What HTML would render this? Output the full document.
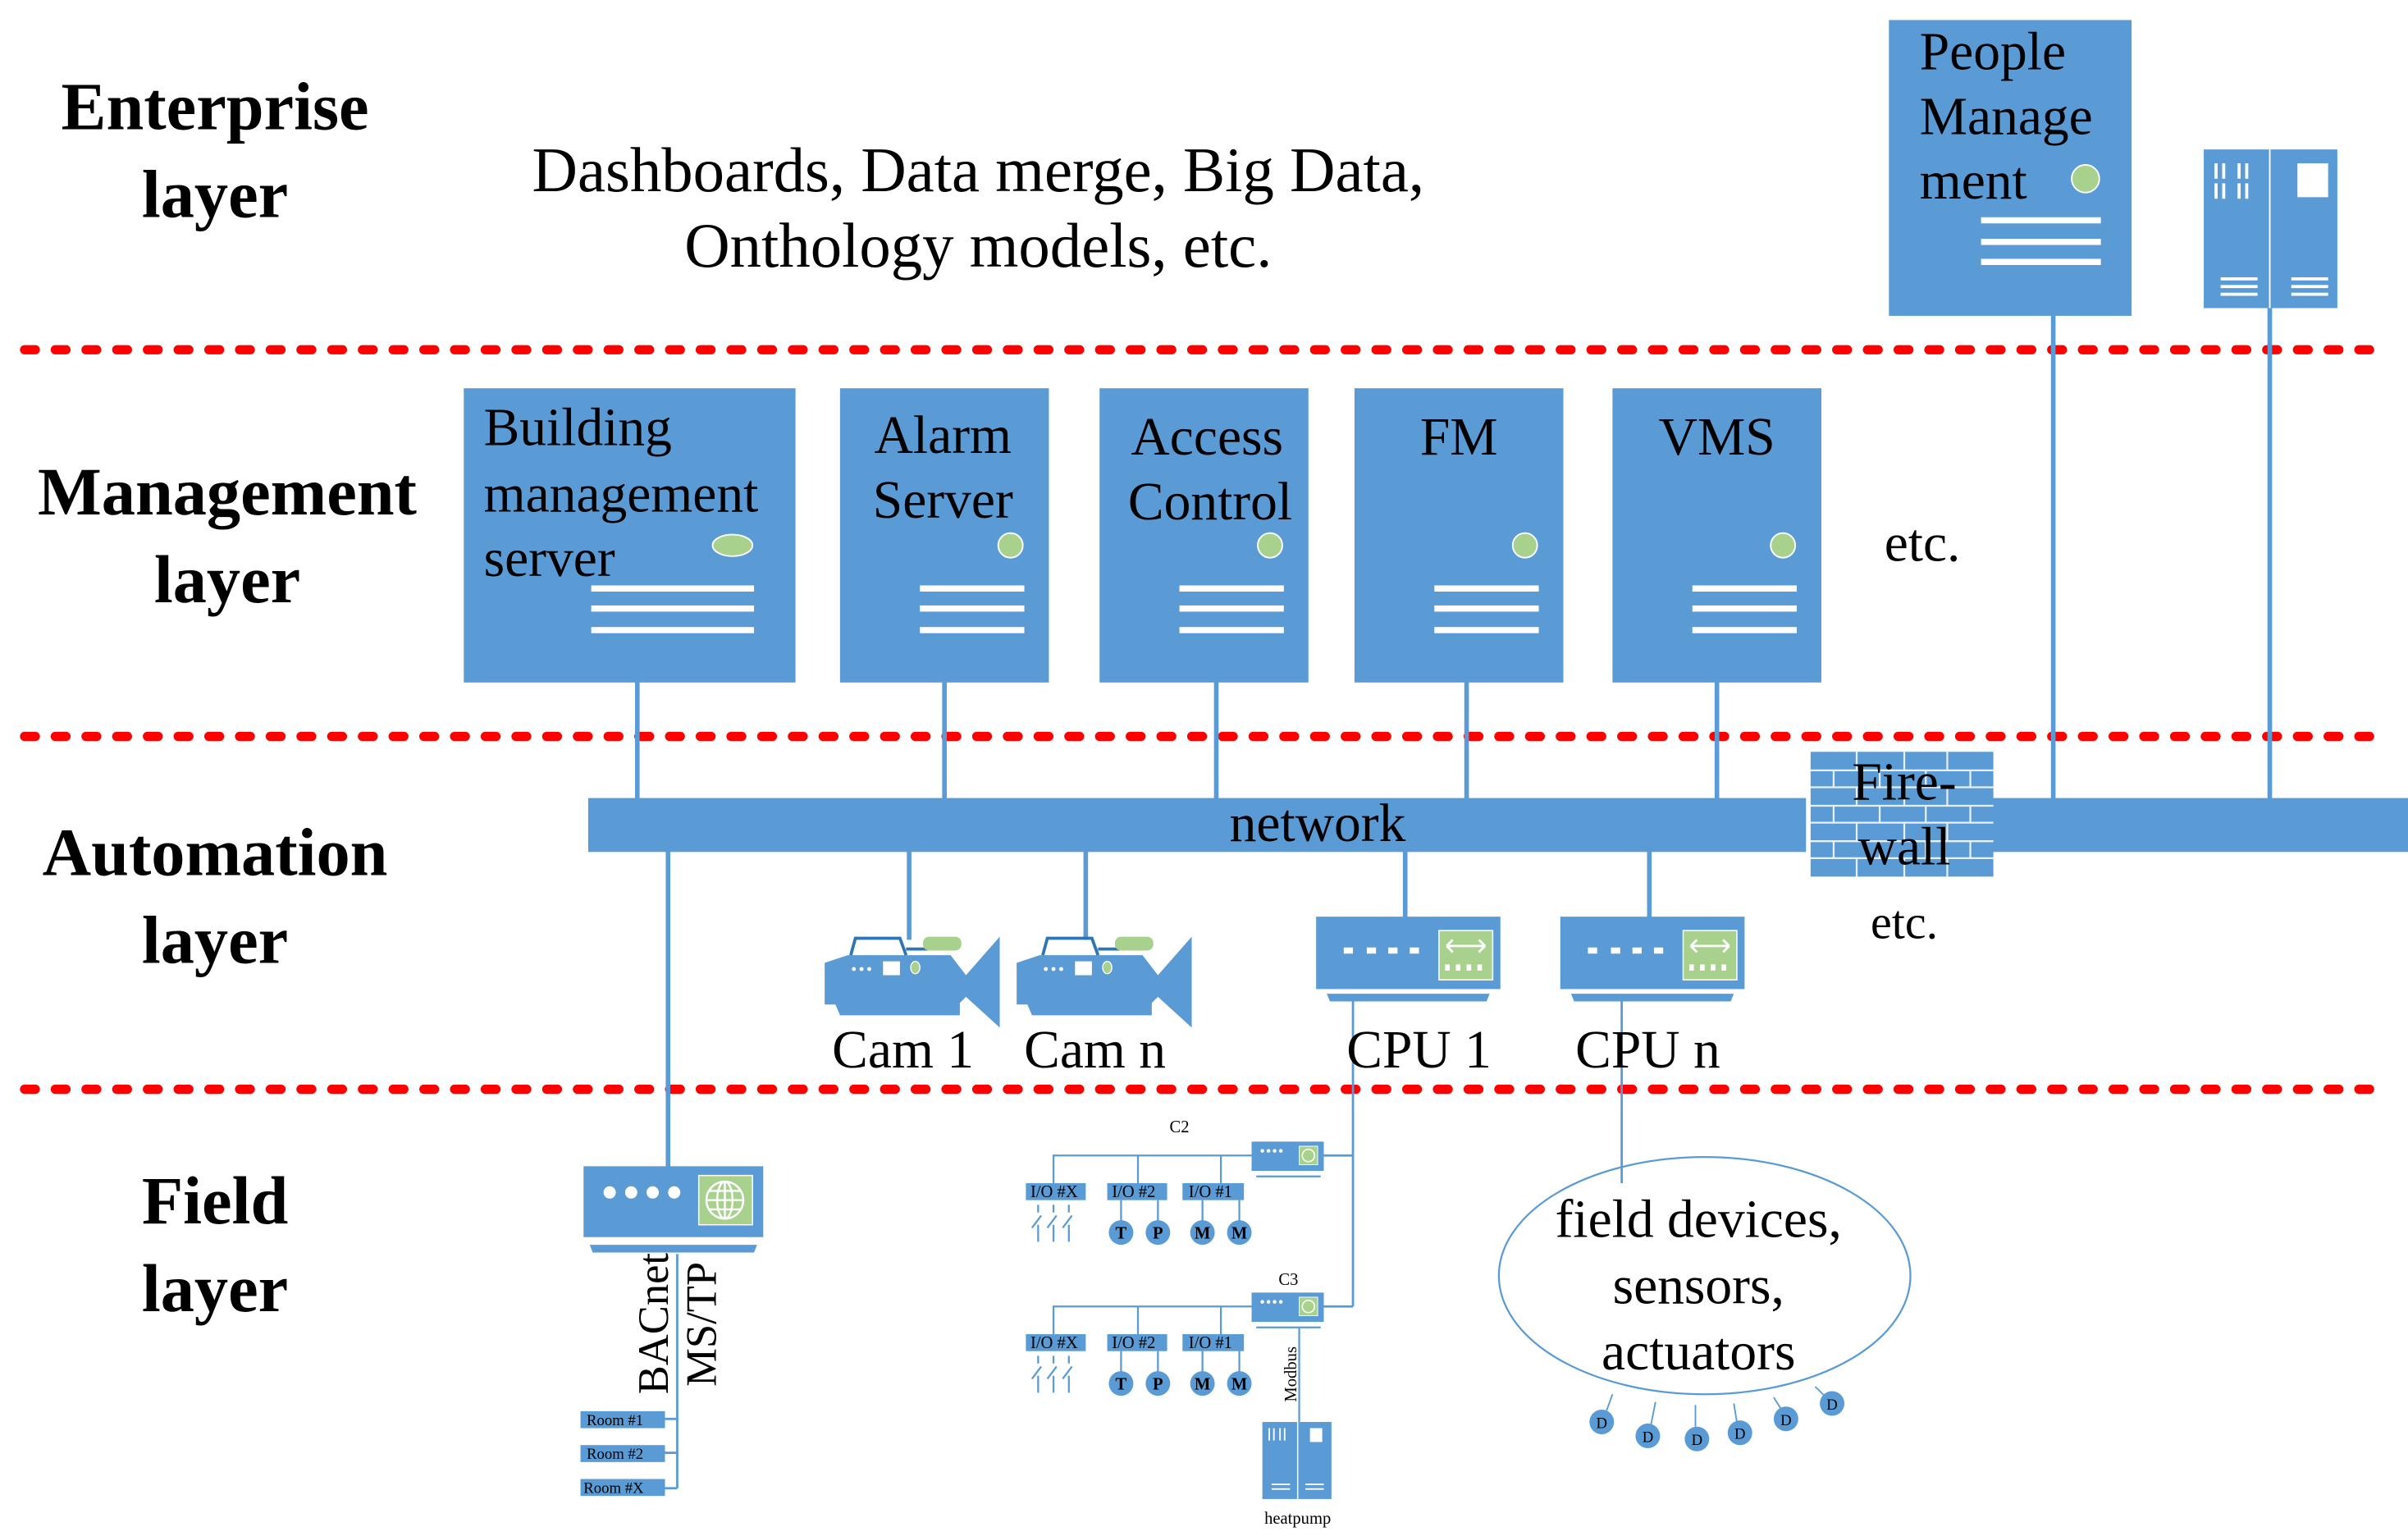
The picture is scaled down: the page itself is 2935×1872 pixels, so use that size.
<!DOCTYPE html>
<html><head><meta charset="utf-8"><style>
html,body{margin:0;padding:0;background:#fff;}
svg{display:block;}
text{font-family:"Liberation Serif",serif;fill:#000;}
.b{font-weight:bold;font-size:44px;text-anchor:middle;}
.t{font-size:35px;}
.c{text-anchor:middle;}
</style></head><body>
<svg width="2935" height="1872" viewBox="0 0 1568 997" preserveAspectRatio="none" xmlns="http://www.w3.org/2000/svg">
<g stroke="#f00" stroke-width="6" stroke-linecap="round" stroke-dasharray="7 13">
<line x1="16" y1="227" x2="1545" y2="227"/>
<line x1="16" y1="478" x2="1545" y2="478"/>
<line x1="16" y1="707" x2="1545" y2="707"/>
</g>
<text class="b" x="140" y="84">Enterprise</text>
<text class="b" x="140" y="141">layer</text>
<text class="b" x="148" y="334">Management</text>
<text class="b" x="148" y="391">layer</text>
<text class="b" x="140" y="568">Automation</text>
<text class="b" x="140" y="625">layer</text>
<text class="b" x="140" y="794">Field</text>
<text class="b" x="140" y="851">layer</text>
<text class="t c" x="637" y="124" style="font-size:41px">Dashboards, Data merge, Big Data,</text>
<text class="t c" x="637" y="173" style="font-size:41px">Onthology models, etc.</text>

<g stroke="#5b9bd5" stroke-width="3">
<line x1="1337" y1="200" x2="1337" y2="525"/>
<line x1="1478" y1="195" x2="1478" y2="525"/>
<line x1="415" y1="440" x2="415" y2="520"/>
<line x1="615" y1="440" x2="615" y2="520"/>
<line x1="792" y1="440" x2="792" y2="520"/>
<line x1="955" y1="440" x2="955" y2="520"/>
<line x1="1118" y1="440" x2="1118" y2="520"/>
<line x1="435" y1="550" x2="435" y2="758"/>
<line x1="592" y1="550" x2="592" y2="610"/>
<line x1="707" y1="550" x2="707" y2="610"/>
<line x1="915" y1="550" x2="915" y2="596"/>
<line x1="1074" y1="550" x2="1074" y2="596"/>
</g>
<g stroke="#5b9bd5" stroke-width="1.5" fill="none">
<line x1="881" y1="650" x2="881" y2="848"/>
<line x1="862" y1="750" x2="881" y2="750"/>
<line x1="862" y1="848" x2="881" y2="848"/>
<line x1="1056" y1="650" x2="1056" y2="768"/>
<line x1="441" y1="814" x2="441" y2="966"/>
<line x1="433" y1="921" x2="441" y2="921"/>
<line x1="433" y1="943" x2="441" y2="943"/>
<line x1="433" y1="966" x2="441" y2="966"/>
</g>

<rect x="1230" y="13" width="158" height="192" fill="#5b9bd5"/>
<text class="t" x="1250" y="45">People</text>
<text class="t" x="1250" y="87">Manage</text>
<text class="t" x="1250" y="129">ment</text>
<circle cx="1358" cy="116" r="9" fill="#a9d18e" stroke="#fff" stroke-width="1"/>
<g fill="#fff"><rect x="1290" y="141" width="78" height="4"/><rect x="1290" y="155" width="78" height="4"/><rect x="1290" y="168" width="78" height="4"/></g>

<rect x="1435" y="97" width="87" height="103" fill="#5b9bd5"/>
<line x1="1478" y1="97" x2="1478" y2="200" stroke="#fff" stroke-width="1"/>
<g fill="#fff">
<rect x="1442" y="106" width="2" height="10"/><rect x="1447" y="106" width="2" height="10"/><rect x="1457" y="106" width="2" height="10"/><rect x="1462" y="106" width="2" height="10"/>
<rect x="1442" y="119" width="2" height="10"/><rect x="1447" y="119" width="2" height="10"/><rect x="1457" y="119" width="2" height="10"/><rect x="1462" y="119" width="2" height="10"/>
<rect x="1496" y="106" width="20" height="22"/>
<rect x="1446" y="180" width="24" height="2"/><rect x="1446" y="185" width="24" height="2"/><rect x="1446" y="190" width="24" height="2"/>
<rect x="1492" y="180" width="24" height="2"/><rect x="1492" y="185" width="24" height="2"/><rect x="1492" y="190" width="24" height="2"/>
</g>

<g fill="#5b9bd5">
<rect x="302" y="252" width="216" height="191"/>
<rect x="547" y="252" width="136" height="191"/>
<rect x="716" y="252" width="136" height="191"/>
<rect x="882" y="252" width="136" height="191"/>
<rect x="1050" y="252" width="136" height="191"/>
</g>
<g fill="#a9d18e" stroke="#fff" stroke-width="1">
<ellipse cx="477" cy="354" rx="13" ry="7"/>
<ellipse cx="658" cy="354" rx="8" ry="8"/>
<ellipse cx="827" cy="354" rx="8" ry="8"/>
<ellipse cx="993" cy="354" rx="8" ry="8"/>
<ellipse cx="1161" cy="354" rx="8" ry="8"/>
</g>
<g fill="#fff">
<rect x="385" y="380" width="106" height="4"/><rect x="385" y="393" width="106" height="4"/><rect x="385" y="407" width="106" height="4"/>
<rect x="599" y="380" width="68" height="4"/><rect x="599" y="393" width="68" height="4"/><rect x="599" y="407" width="68" height="4"/>
<rect x="768" y="380" width="68" height="4"/><rect x="768" y="393" width="68" height="4"/><rect x="768" y="407" width="68" height="4"/>
<rect x="934" y="380" width="68" height="4"/><rect x="934" y="393" width="68" height="4"/><rect x="934" y="407" width="68" height="4"/>
<rect x="1102" y="380" width="68" height="4"/><rect x="1102" y="393" width="68" height="4"/><rect x="1102" y="407" width="68" height="4"/>
</g>
<text class="t" x="315" y="289">Building</text>
<text class="t" x="315" y="332">management</text>
<text class="t" x="315" y="374">server</text>
<text class="t c" x="614" y="294">Alarm</text>
<text class="t c" x="614" y="336">Server</text>
<text class="t c" x="786" y="295">Access</text>
<text class="t c" x="788" y="337">Control</text>
<text class="t c" x="950" y="295">FM</text>
<text class="t c" x="1118" y="295">VMS</text>
<text class="t" x="1227" y="364">etc.</text>

<rect x="383" y="518" width="793" height="35" fill="#5b9bd5"/>
<rect x="1296" y="518" width="272" height="35" fill="#5b9bd5"/>
<text class="t c" x="858" y="546">network</text>
<rect x="1179" y="488" width="119" height="81" fill="#5b9bd5"/>
<g stroke="#fff" stroke-width="1.2" opacity="0.85">
<line x1="1179" y1="500" x2="1298" y2="500"/><line x1="1179" y1="511" x2="1298" y2="511"/><line x1="1179" y1="523" x2="1298" y2="523"/><line x1="1179" y1="534" x2="1298" y2="534"/><line x1="1179" y1="546" x2="1298" y2="546"/><line x1="1179" y1="557" x2="1298" y2="557"/>
<line x1="1209" y1="488" x2="1209" y2="500"/><line x1="1240" y1="488" x2="1240" y2="500"/><line x1="1268" y1="488" x2="1268" y2="500"/>
<line x1="1194" y1="500" x2="1194" y2="511"/><line x1="1224" y1="500" x2="1224" y2="511"/><line x1="1254" y1="500" x2="1254" y2="511"/><line x1="1283" y1="500" x2="1283" y2="511"/>
<line x1="1209" y1="511" x2="1209" y2="523"/><line x1="1240" y1="511" x2="1240" y2="523"/><line x1="1268" y1="511" x2="1268" y2="523"/>
<line x1="1194" y1="523" x2="1194" y2="534"/><line x1="1224" y1="523" x2="1224" y2="534"/><line x1="1254" y1="523" x2="1254" y2="534"/><line x1="1283" y1="523" x2="1283" y2="534"/>
<line x1="1209" y1="534" x2="1209" y2="546"/><line x1="1240" y1="534" x2="1240" y2="546"/><line x1="1268" y1="534" x2="1268" y2="546"/>
<line x1="1194" y1="546" x2="1194" y2="557"/><line x1="1224" y1="546" x2="1224" y2="557"/><line x1="1254" y1="546" x2="1254" y2="557"/><line x1="1283" y1="546" x2="1283" y2="557"/>
<line x1="1209" y1="557" x2="1209" y2="569"/><line x1="1240" y1="557" x2="1240" y2="569"/><line x1="1268" y1="557" x2="1268" y2="569"/>
</g>
<text class="t c" x="1240" y="519">Fire-</text>
<text class="t c" x="1240" y="561">wall</text>
<text class="t c" x="1240" y="609" style="font-size:31px">etc.</text>

<g id="cam">
<path d="M540 625 L555 620 L622 620 L632 633 L654 608 L654 667 L632 647 L628 651 L628 659 L550 659 L547 652 L540 652 Z" fill="#5b9bd5" transform="translate(-3,0)"/>
<path d="M554 620 L557 609 L586 609 L590 620 M590 616 L604 616" stroke="#2e75b6" stroke-width="2" fill="none"/>
<rect x="601" y="608" width="25" height="9" rx="4" fill="#a9d18e"/>
<rect x="575" y="624" width="11" height="9" fill="#fff"/>
<circle cx="556" cy="629" r="1.3" fill="#fff"/><circle cx="561" cy="629" r="1.3" fill="#fff"/><circle cx="566" cy="629" r="1.3" fill="#fff"/>
<ellipse cx="596" cy="628" rx="3" ry="4" fill="#a9d18e" stroke="#fff" stroke-width="0.7"/>
</g>
<use href="#cam" transform="translate(125,0)"/>
<text class="t c" x="588" y="693">Cam 1</text>
<text class="t c" x="713" y="693">Cam n</text>

<g id="cpu">
<rect x="857" y="595" width="120" height="47" fill="#5b9bd5"/>
<path d="M864 645 L970 645 L968 650 L866 650 Z" fill="#5b9bd5"/>
<rect x="937" y="604" width="35" height="32" fill="#a9d18e" stroke="#fff" stroke-width="0.8"/>
<path d="M942 614 L967 614 M942 614 L946 610 M942 614 L946 618 M967 614 L963 610 M967 614 L963 618" stroke="#fff" stroke-width="1.5" fill="none"/>
<g fill="#fff"><rect x="941" y="626" width="3" height="4"/><rect x="948" y="626" width="3" height="4"/><rect x="955" y="626" width="3" height="4"/><rect x="962" y="626" width="3" height="4"/>
<rect x="875" y="615" width="6" height="4"/><rect x="890" y="615" width="6" height="4"/><rect x="904" y="615" width="6" height="4"/><rect x="918" y="615" width="6" height="4"/></g>
</g>
<use href="#cpu" transform="translate(159,0)"/>
<text class="t c" x="924" y="693">CPU 1</text>
<text class="t c" x="1073" y="693">CPU n</text>

<rect x="380" y="757" width="117" height="46" fill="#5b9bd5"/>
<path d="M384 808 L493 808 L491 813 L386 813 Z" fill="#5b9bd5"/>
<g fill="#fff"><circle cx="397" cy="774" r="4"/><circle cx="411" cy="774" r="4"/><circle cx="425" cy="774" r="4"/><circle cx="439" cy="774" r="4"/></g>
<rect x="455" y="763" width="35" height="32" fill="#a9d18e" stroke="#fff" stroke-width="0.8"/>
<g stroke="#fff" stroke-width="1.3" fill="none"><circle cx="472" cy="779" r="12"/><ellipse cx="472" cy="779" rx="5" ry="12"/><line x1="460" y1="779" x2="484" y2="779"/><line x1="462" y1="773" x2="482" y2="773"/><line x1="462" y1="785" x2="482" y2="785"/><line x1="472" y1="767" x2="472" y2="791"/></g>
<text class="t" transform="translate(435,905) rotate(-90)" style="font-size:28px">BACnet</text>
<text class="t" transform="translate(466,900) rotate(-90)" style="font-size:28px">MS/TP</text>
<g fill="#5b9bd5"><rect x="378" y="916" width="55" height="11"/><rect x="378" y="938" width="55" height="11"/><rect x="378" y="960" width="55" height="11"/></g>
<g style="font-size:10px"><text x="382" y="925">Room #1</text><text x="382" y="947">Room #2</text><text x="380" y="969">Room #X</text></g>

<g id="ctl">
<rect x="815" y="741" width="47" height="19" fill="#5b9bd5"/>
<rect x="818" y="763" width="42" height="1.2" fill="#5b9bd5"/>
<g fill="#fff"><circle cx="822" cy="747" r="1.2"/><circle cx="826" cy="747" r="1.2"/><circle cx="830" cy="747" r="1.2"/><circle cx="834" cy="747" r="1.2"/></g>
<rect x="846" y="744" width="12" height="12" fill="#a9d18e" stroke="#fff" stroke-width="0.5"/>
<circle cx="852" cy="750" r="4" fill="none" stroke="#fff" stroke-width="0.8"/>
<polyline points="815,750 686,750 686,768" fill="none" stroke="#5b9bd5" stroke-width="1.2"/>
<line x1="741" y1="750" x2="741" y2="768" stroke="#5b9bd5" stroke-width="1.2"/>
<line x1="795" y1="750" x2="795" y2="768" stroke="#5b9bd5" stroke-width="1.2"/>
<g fill="#5b9bd5"><rect x="668" y="768" width="39" height="11"/><rect x="721" y="768" width="39" height="11"/><rect x="770" y="768" width="40" height="11"/></g>
<g style="font-size:11px"><text x="671" y="777">I/O #X</text><text x="724" y="777">I/O #2</text><text x="774" y="777">I/O #1</text></g>
<g stroke="#5b9bd5" stroke-width="1.2"><line x1="730" y1="779" x2="730" y2="800"/><line x1="754" y1="779" x2="754" y2="800"/><line x1="783" y1="779" x2="783" y2="800"/><line x1="807" y1="779" x2="807" y2="800"/>
<path d="M676 782 L676 787 M686 782 L686 787 M696 782 L696 787 M672 797 L678 789 M682 797 L688 789 M692 797 L698 789 M676 795 L676 806 M686 795 L686 806 M696 795 L696 806" fill="none"/></g>
<g fill="#5b9bd5"><circle cx="730" cy="800" r="8"/><circle cx="754" cy="800" r="8"/><circle cx="783" cy="800" r="8"/><circle cx="807" cy="800" r="8"/></g>
<g style="font-size:11px;font-weight:bold" text-anchor="middle"><text x="730" y="804">T</text><text x="754" y="804">P</text><text x="783" y="804">M</text><text x="807" y="804">M</text></g>
</g>
<use href="#ctl" transform="translate(0,98)"/>
<text x="768" y="735" style="font-size:11px" text-anchor="middle">C2</text>
<text x="839" y="834" style="font-size:11px" text-anchor="middle">C3</text>
<line x1="846" y1="862" x2="846" y2="923" stroke="#5b9bd5" stroke-width="1.2"/>
<text transform="translate(844,910) rotate(-90)" style="font-size:11px">Modbus</text>
<rect x="822" y="923" width="45" height="50" fill="#5b9bd5"/>
<line x1="845" y1="923" x2="845" y2="973" stroke="#fff" stroke-width="0.8"/>
<g fill="#fff"><rect x="826" y="927" width="1" height="8"/><rect x="829" y="927" width="1" height="8"/><rect x="833" y="927" width="1" height="8"/><rect x="836" y="927" width="1" height="8"/><rect x="853" y="927" width="8" height="9"/>
<rect x="828" y="963" width="12" height="1"/><rect x="828" y="966" width="12" height="1"/><rect x="850" y="963" width="12" height="1"/><rect x="850" y="966" width="12" height="1"/></g>
<text x="845" y="989" style="font-size:11px" text-anchor="middle">heatpump</text>

<ellipse cx="1110" cy="828" rx="134" ry="77" fill="none" stroke="#5b9bd5" stroke-width="1.2"/>
<text class="t c" x="1106" y="803">field devices,</text>
<text class="t c" x="1106" y="846">sensors,</text>
<text class="t c" x="1106" y="889">actuators</text>
<g stroke="#5b9bd5" stroke-width="1"><line x1="1050" y1="905" x2="1046" y2="916"/><line x1="1078" y1="910" x2="1075" y2="925"/><line x1="1104" y1="912" x2="1104" y2="926"/><line x1="1129" y1="911" x2="1131" y2="923"/><line x1="1155" y1="907" x2="1160" y2="915"/><line x1="1182" y1="900" x2="1188" y2="906"/></g>
<g fill="#5b9bd5"><circle cx="1043" cy="923" r="8"/><circle cx="1073" cy="932" r="8"/><circle cx="1105" cy="934" r="8"/><circle cx="1133" cy="930" r="8"/><circle cx="1163" cy="921" r="8"/><circle cx="1193" cy="911" r="8"/></g>
<g style="font-size:10px" text-anchor="middle"><text x="1043" y="927">D</text><text x="1073" y="936">D</text><text x="1105" y="938">D</text><text x="1133" y="934">D</text><text x="1163" y="925">D</text><text x="1193" y="915">D</text></g>
</svg>
</body></html>
